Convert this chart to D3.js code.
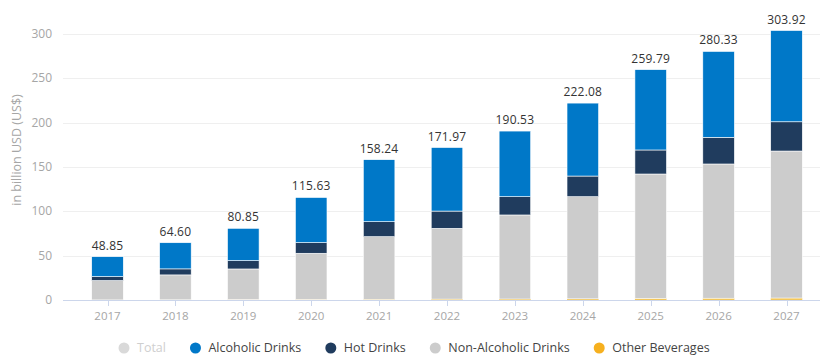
<!DOCTYPE html>
<html>
<head>
<meta charset="utf-8">
<script src="https://cdn.jsdelivr.net/npm/d3@7"></script>
<style>
  body { margin: 0; background: #fff; }
  svg { display: block; font-family: "Open Sans", sans-serif; }
</style>
</head>
<body>
<div id="chart"></div>
<script>
'use strict';

// Values (billion US$)
let years = ["2017", "2018", "2019", "2020", "2021", "2022", "2023", "2024", "2025", "2026", "2027"];
let totals = [48.85, 64.60, 80.85, 115.63, 158.24, 171.97, 190.53, 222.08, 259.79, 280.33, 303.92];
let otherBeverages = [0.1, 0.2, 0.4, 0.6, 0.8, 1.0, 1.1, 1.3, 1.8, 2.0, 2.2];
let nonAlcoholic = [21.8, 28.1, 34.6, 52.1, 70.6, 79.8, 94.8, 115.2, 140.3, 151.4, 165.8];
let hotDrinks = [4.5, 6.8, 9.4, 12.0, 16.9, 19.5, 20.6, 23.3, 27.1, 30.1, 33.0];
let alcoholic = [22.45, 29.5, 36.45, 50.93, 69.94, 71.67, 74.03, 82.28, 90.59, 96.83, 102.92];
let yTicks = [0, 50, 100, 150, 200, 250, 300];

let legendItems = [
  {name: "Total", color: "#d9d9d9", text: "#cfcfcf"},
  {name: "Alcoholic Drinks", color: "#0078c8", text: "#444"},
  {name: "Hot Drinks", color: "#203c5e", text: "#444"},
  {name: "Non-Alcoholic Drinks", color: "#cccccc", text: "#444"},
  {name: "Other Beverages", color: "#f6b01f", text: "#444"}
];

const width = 820;
const height = 355;

const svg = d3.select("#chart").append("svg")
    .attr("width", width)
    .attr("height", height);

// Build rows for the stack
let rows = years.map((y, i) => ({
  year: y,
  other: otherBeverages[i],
  nonAlc: nonAlcoholic[i],
  hot: hotDrinks[i],
  alc: alcoholic[i]
}));

let keys = ["other", "nonAlc", "hot", "alc"];
let colors = {other: "#f3c75a", nonAlc: "#cccccc", hot: "#203c5e", alc: "#0078c8"};

const step = 67.9;
const x = d3.scaleBand()
    .domain(years)
    .range([73.55, 73.55 + step * years.length])
    .paddingInner(0.535)
    .paddingOuter(0.2675);

const y = d3.scaleLinear()
    .domain([0, 300])
    .range([300, 34]);

// gridlines
svg.append("g")
  .selectAll("line")
  .data(yTicks.filter(d => d > 0))
  .join("line")
    .attr("x1", 63)
    .attr("x2", width)
    .attr("y1", d => Math.round(y(d)) + 0.5)
    .attr("y2", d => Math.round(y(d)) + 0.5)
    .attr("stroke", "#efefef")
    .attr("stroke-width", 1);

// y tick labels
svg.append("g")
  .selectAll("text")
  .data(yTicks)
  .join("text")
    .attr("x", 52)
    .attr("y", d => y(d) + 4)
    .attr("text-anchor", "end")
    .attr("fill", "#a6a6a6")
    .style("font-size", "12px")
    .text(d => d);

// y axis title
svg.append("text")
    .attr("transform", "translate(21,150) rotate(-90)")
    .attr("text-anchor", "middle")
    .attr("fill", "#a6a6a6")
    .style("font-size", "12.5px")
    .text("in billion USD (US$)");

// stacked bars
let series = d3.stack().keys(keys)(rows);

svg.append("g")
  .selectAll("g")
  .data(series)
  .join("g")
    .attr("fill", d => colors[d.key])
    .attr("stroke", d => d.key == "other" ? "none" : "#fff")
  .selectAll("rect")
  .data(d => d)
  .join("rect")
    .attr("x", d => x(d.data.year))
    .attr("width", x.bandwidth())
    .attr("y", d => y(d[1]))
    .attr("height", d => y(d[0]) - y(d[1]))
    .attr("stroke-width", 0.6);

// x axis line and ticks
svg.append("line")
    .attr("x1", 63)
    .attr("x2", width)
    .attr("y1", 300.5)
    .attr("y2", 300.5)
    .attr("stroke", "#ccd6eb");

svg.append("g")
  .selectAll("line")
  .data(years)
  .join("line")
    .attr("x1", d => Math.round(x(d) + x.bandwidth() / 2) + 0.5)
    .attr("x2", d => Math.round(x(d) + x.bandwidth() / 2) + 0.5)
    .attr("y1", 301)
    .attr("y2", 306)
    .attr("stroke", "#ccd6eb");

svg.append("g")
  .selectAll("text")
  .data(years)
  .join("text")
    .attr("x", d => x(d) + x.bandwidth() / 2)
    .attr("y", 319.5)
    .attr("text-anchor", "middle")
    .attr("fill", "#a6a6a6")
    .style("font-size", "11.5px")
    .text(d => d);

// total labels above bars
svg.append("g")
  .selectAll("text")
  .data(years)
  .join("text")
    .attr("x", (d, i) => x(d) + x.bandwidth() / 2)
    .attr("y", (d, i) => y(totals[i]) - 7)
    .attr("text-anchor", "middle")
    .attr("fill", "#333")
    .style("font-size", "12px")
    .style("font-weight", "500")
    .style("letter-spacing", "0.2px")
    .text((d, i) => totals[i].toFixed(2));

// legend, laid out item by item
const legend = svg.append("g");
let lx = 124;
legendItems.forEach(item => {
  legend.append("circle")
      .attr("cx", lx)
      .attr("cy", 348)
      .attr("r", 5.5)
      .attr("fill", item.color);
  let t = legend.append("text")
      .attr("x", lx + 13)
      .attr("y", 352)
      .attr("fill", item.text)
      .style("font-size", "12.5px")
      .text(item.name);
  lx = lx + 13 + t.node().getComputedTextLength() + 29.5;
});
</script>
</body>
</html>
